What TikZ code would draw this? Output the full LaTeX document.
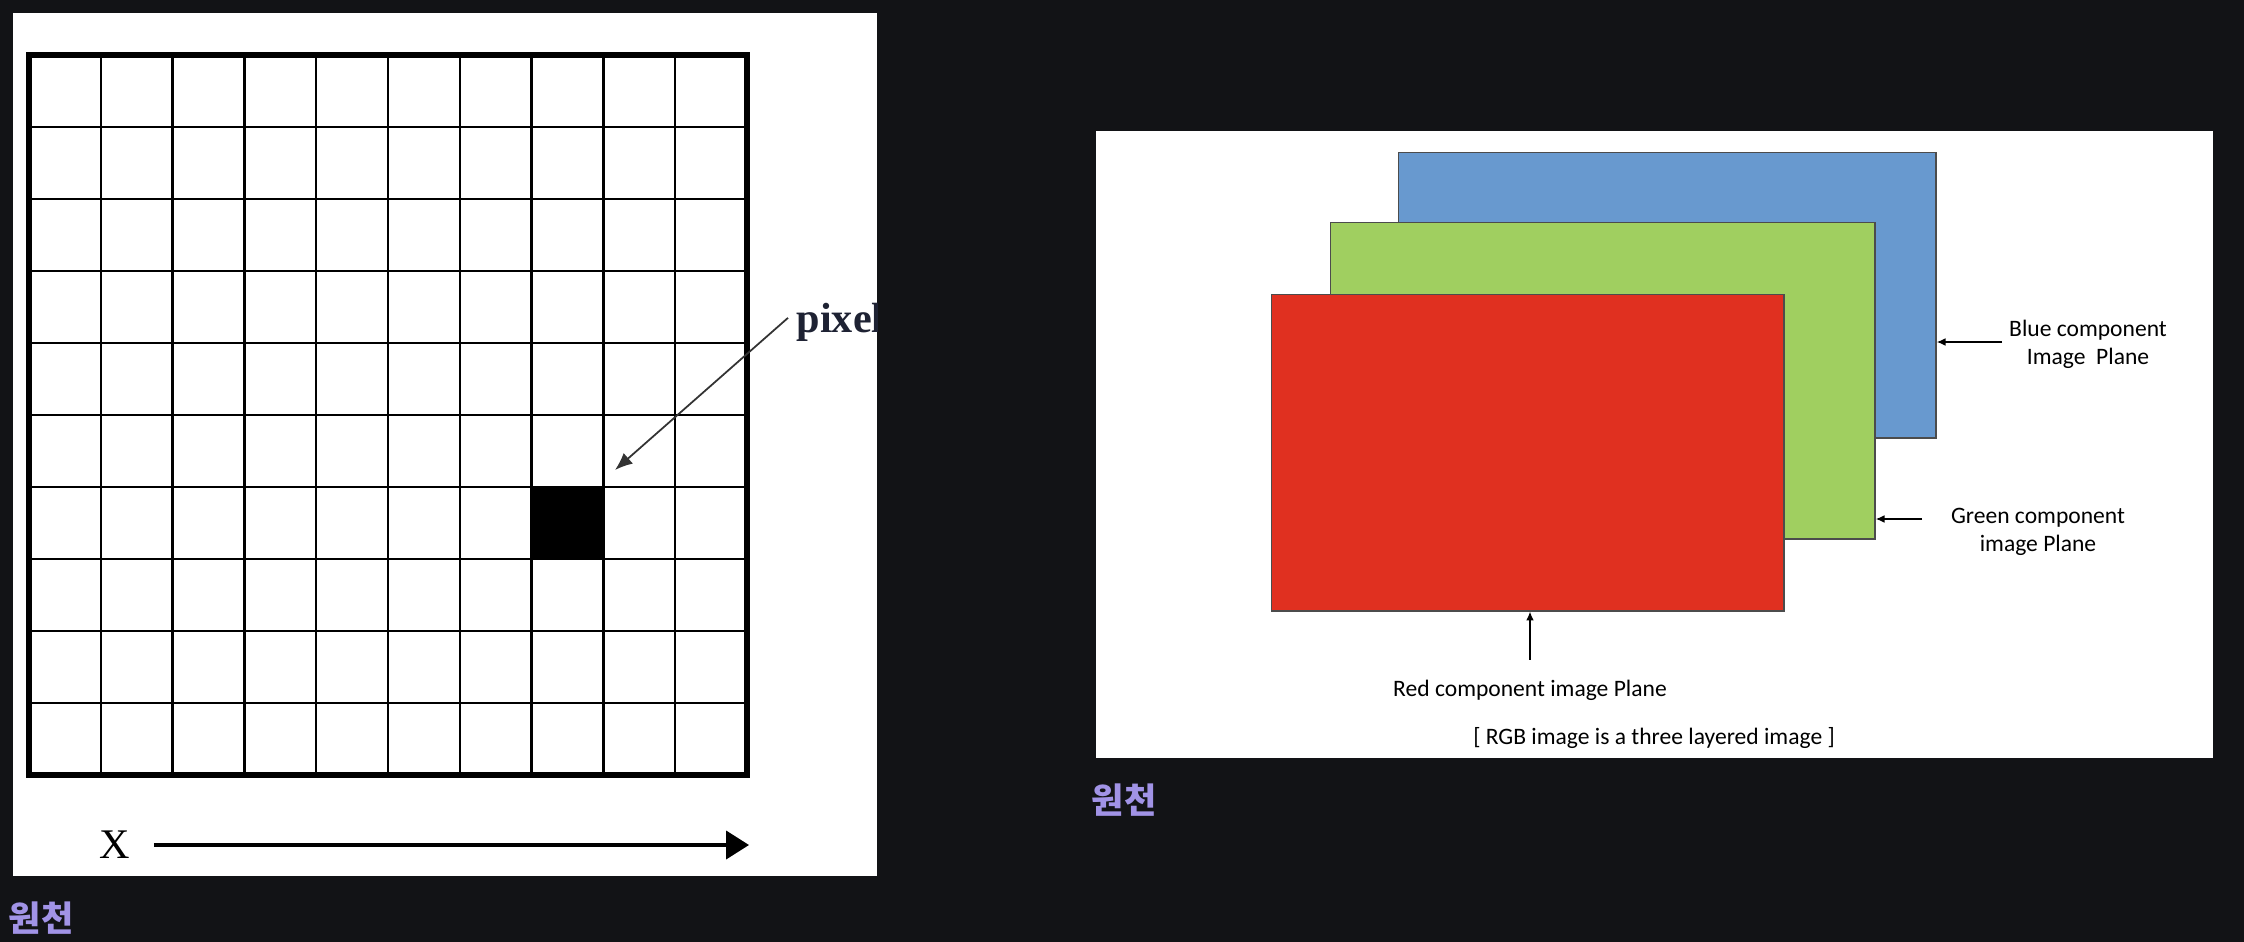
\documentclass[tikz,border=0pt]{standalone}
\usepackage{fontspec}
\newfontfamily\labelfont{Carlito}
\newfontfamily\gridfont{Liberation Serif}
\newfontfamily\cjkfont{Noto Sans CJK KR}
\usepackage{tikz}
\usetikzlibrary{arrows.meta,positioning}
\definecolor{pagebg}{HTML}{121316}
\definecolor{srclink}{HTML}{A193E6}
\definecolor{planeblue}{HTML}{6899CF}
\definecolor{planegreen}{HTML}{A0CF60}
\definecolor{planered}{HTML}{E03020}
\definecolor{pixelink}{HTML}{1E2233}

\begin{document}
\begin{tikzpicture}[x=0.01cm, y=-0.01cm,
    plane/.style={draw=gray!60!black, line width=0.4pt, inner sep=0pt, anchor=north west},
    complabel/.style={font=\labelfont\fontsize{6.7}{8}\selectfont, align=center, inner sep=0pt},
    source/.style={font=\cjkfont\bfseries\fontsize{10}{12}\selectfont, text=srclink, inner sep=0pt},
    ptr/.style={-{Latex[length=2.5pt,width=2.2pt]}, line width=0.4pt}]
    % Page
    \useasboundingbox (0,0) rectangle (2244,942);
    \fill[pagebg] (0,0) rectangle (2244,942);

    % Pixel grid (left)
    \fill[white] (13,13) rectangle (877,876);
    \begin{scope}
    \clip (13,13) rectangle (877,876);
    \foreach \i in {1,...,9} {
        \draw[line width=0.7pt] (29+71.8*\i,55) -- (29+71.8*\i,775);
        \draw[line width=0.7pt] (29,55+72*\i) -- (747,55+72*\i);
    }
    \node[fill=black, inner sep=0pt, minimum size=0.718cm, anchor=north west] (pixcell) at (531.6,487) {};
    \draw[line width=1.5pt] (29,55) rectangle (747,775);
    \node[anchor=base west, inner sep=0pt, text=pixelink, font=\gridfont\bfseries\fontsize{12}{14}\selectfont] (pixlbl) at (796,332) {pixel};
    \coordinate (pixtip) at (615,470);
    \draw[-{Latex[length=5pt,width=4pt]}, line width=0.5pt, black!80] (pixlbl.west) ++(-8,-4) -- (pixtip);

    % Axis
    \node[font=\gridfont\fontsize{12}{14}\selectfont, inner sep=0pt] (xlbl) at (115,845) {X};
    \coordinate (xend) at (749,845);
    \draw[-{Triangle[length=6.5pt,width=8pt]}, line width=0.9pt, shorten <=6.5pt] (xlbl.east) -- (xend);
    \end{scope}
    \node[source] (srcleft) at (41,918) {원천};

    % RGB planes (right)
    \fill[white] (1096,131) rectangle (2213,758);
    \node[plane, fill=planeblue, minimum width=5.37cm, minimum height=2.85cm] (blue) at (1398,152) {};
    \node[plane, fill=planegreen, minimum width=5.44cm, minimum height=3.16cm] (green) at (1330,222) {};
    \node[plane, fill=planered, minimum width=5.12cm, minimum height=3.16cm] (red) at (1271,294) {};

    % Labels
    \node[complabel] (bluelbl) at (2088,344) {Blue component\\Image~~Plane};
    \node[complabel] (greenlbl) at (2038,532) {Green component\\image Plane};
    \node[complabel] (redlbl) at (1530,690) {Red component image Plane};
    \node[complabel] (caption) at (1654,738) {[ RGB image is a three layered image ]};

    \coordinate (btail) at (2002,342);
    \coordinate (gtail) at (1922,519);
    \draw[ptr] (btail) -- (btail -| blue.east);
    \draw[ptr] (gtail) -- (gtail -| green.east);
    \draw[ptr, shorten <=5.5pt] (redlbl.north) -- (redlbl.north |- red.south);

    \node[source] (srcright) at (1124,800) {원천};
\end{tikzpicture}
\end{document}
